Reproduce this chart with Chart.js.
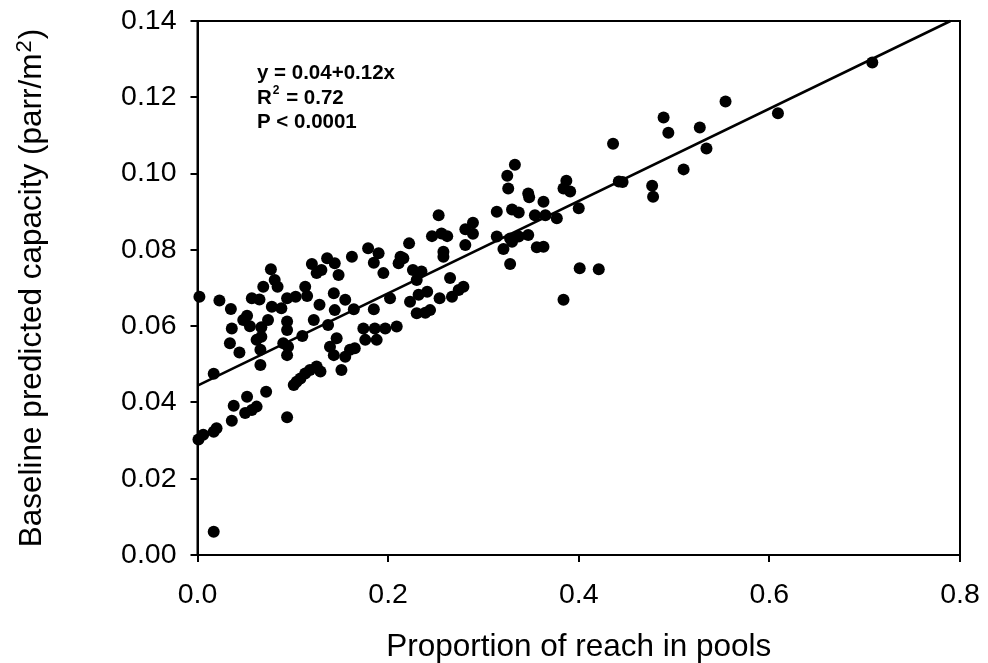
<!DOCTYPE html>
<html>
<head>
<meta charset="utf-8">
<script src="https://cdn.jsdelivr.net/npm/chart.js@4.4.1/dist/chart.umd.min.js"></script>
<style>
  html, body { margin: 0; padding: 0; background: #fff; }
  #wrap { width: 988px; height: 663px; }
</style>
</head>
<body>
<div id="wrap"><canvas id="chartPools" width="988" height="663"></canvas></div>
<script>
// proportion of reach in pools (x) and baseline predicted capacity (y), one entry per reach
const poolX = [
  0.002, 0.023, 0.035, 0.036, 0.034, 0.044, 0.017, 0.048, 0.052, 0.055,
  0.057, 0.065, 0.077, 0.069, 0.081, 0.084, 0.078, 0.088, 0.074, 0.067,
  0.062, 0.067, 0.066, 0.066, 0.094, 0.094, 0.094, 0.090, 0.095, 0.094,
  0.072, 0.052, 0.038, 0.050, 0.057, 0.062, 0.036, 0.094, 0.020, 0.017,
  0.006, 0.001, 0.017, 0.103, 0.113, 0.115, 0.120, 0.125, 0.130, 0.136,
  0.144, 0.148, 0.162, 0.179, 0.190, 0.185, 0.195, 0.128, 0.143, 0.144,
  0.155, 0.164, 0.122, 0.137, 0.110, 0.185, 0.174, 0.186, 0.197, 0.176,
  0.188, 0.146, 0.139, 0.143, 0.155, 0.160, 0.165, 0.151, 0.101, 0.104,
  0.108, 0.113, 0.118, 0.125, 0.129, 0.253, 0.314, 0.289, 0.281, 0.289,
  0.246, 0.256, 0.262, 0.314, 0.222, 0.213, 0.216, 0.211, 0.258, 0.258,
  0.281, 0.226, 0.235, 0.230, 0.265, 0.279, 0.274, 0.241, 0.232, 0.223,
  0.254, 0.267, 0.230, 0.239, 0.244, 0.202, 0.333, 0.325, 0.326, 0.330,
  0.337, 0.347, 0.348, 0.363, 0.354, 0.365, 0.377, 0.387, 0.384, 0.391,
  0.400, 0.442, 0.446, 0.328, 0.337, 0.347, 0.321, 0.330, 0.356, 0.363,
  0.328, 0.401, 0.421, 0.384, 0.436, 0.477, 0.478, 0.489, 0.494, 0.510,
  0.527, 0.534, 0.554, 0.609, 0.708, 0.209
];
const capacity = [
  0.0677, 0.0667, 0.0645, 0.0594, 0.0555, 0.0531, 0.0475, 0.0616, 0.0627, 0.0600,
  0.0673, 0.0670, 0.0749, 0.0703, 0.0721, 0.0703, 0.0651, 0.0647, 0.0616, 0.0597,
  0.0564, 0.0572, 0.0538, 0.0498, 0.0673, 0.0612, 0.0590, 0.0555, 0.0546, 0.0524,
  0.0428, 0.0415, 0.0391, 0.0372, 0.0380, 0.0389, 0.0352, 0.0361, 0.0332, 0.0323,
  0.0315, 0.0303, 0.0061, 0.0677, 0.0703, 0.0679, 0.0763, 0.0739, 0.0747, 0.0778,
  0.0765, 0.0734, 0.0782, 0.0804, 0.0791, 0.0766, 0.0739, 0.0656, 0.0686, 0.0642,
  0.0669, 0.0644, 0.0616, 0.0603, 0.0574, 0.0644, 0.0594, 0.0594, 0.0594, 0.0564,
  0.0564, 0.0568, 0.0546, 0.0524, 0.0520, 0.0538, 0.0542, 0.0485, 0.0446, 0.0454,
  0.0463, 0.0476, 0.0485, 0.0494, 0.0481, 0.0891, 0.0900, 0.0871, 0.0854, 0.0842,
  0.0836, 0.0843, 0.0836, 0.0835, 0.0817, 0.0782, 0.0778, 0.0765, 0.0795, 0.0782,
  0.0813, 0.0747, 0.0743, 0.0721, 0.0726, 0.0703, 0.0695, 0.0690, 0.0682, 0.0664,
  0.0673, 0.0677, 0.0634, 0.0635, 0.0642, 0.0673, 0.1023, 0.0994, 0.0961, 0.0906,
  0.0898, 0.0948, 0.0938, 0.0926, 0.0891, 0.0891, 0.0883, 0.0981, 0.0961, 0.0953,
  0.0909, 0.0979, 0.0978, 0.0830, 0.0835, 0.0839, 0.0802, 0.0821, 0.0807, 0.0808,
  0.0763, 0.0752, 0.0749, 0.0669, 0.1078, 0.0968, 0.0939, 0.1147, 0.1107, 0.1011,
  0.1121, 0.1066, 0.1189, 0.1158, 0.1291, 0.0599
];

// regression line end points (clipped at the top of the plot)
const fitX = [0, 0.79];
const fitY = [0.0444, 0.14];

const xTicks = [0, 0.2, 0.4, 0.6, 0.8];
const yTicks = [0, 0.02, 0.04, 0.06, 0.08, 0.10, 0.12, 0.14];

const statsLines = ["y = 0.04+0.12x", "R2 = 0.72", "P < 0.0001"];
// y title is split so the "2" of m2 can be raised
const yTitleParts = ["Baseline predicted capacity (parr/m", "2", ")"];

const FONT = "'Liberation Sans', Arial, sans-serif";

/* ============================================================
 * plugins: box round the plot, y title, regression text
 * ============================================================ */

const framePlugin = {
  id: "frame",
  afterDraw(chart) {
    const { ctx, chartArea: a } = chart;
    ctx.save();
    ctx.strokeStyle = "#000";
    ctx.lineWidth = 2;
    ctx.strokeRect(a.left, a.top, a.right - a.left, a.bottom - a.top);
    ctx.restore();
  },
};

const yTitlePlugin = {
  id: "yTitle",
  afterDraw(chart) {
    const { ctx, chartArea: a } = chart;
    const big = "31.5px " + FONT;
    const small = "22px " + FONT;
    ctx.save();
    ctx.fillStyle = "#000";
    ctx.textBaseline = "alphabetic";
    ctx.textAlign = "left";

    ctx.font = big;
    const w0 = ctx.measureText(yTitleParts[0]).width;
    const w2 = ctx.measureText(yTitleParts[2]).width;
    ctx.font = small;
    const w1 = ctx.measureText(yTitleParts[1]).width;
    const total = w0 + w1 + w2 + 2;

    ctx.translate(41, (a.top + a.bottom) / 2);
    ctx.rotate(-Math.PI / 2);
    let x = -total / 2;
    ctx.font = big;
    ctx.fillText(yTitleParts[0], x, 0);
    x += w0 + 1;
    ctx.font = small;
    ctx.fillText(yTitleParts[1], x, -10);
    x += w1 + 1;
    ctx.font = big;
    ctx.fillText(yTitleParts[2], x, 0);
    ctx.restore();
  },
};

const statsPlugin = {
  id: "stats",
  afterDraw(chart) {
    const { ctx } = chart;
    const x0 = 257;
    const rows = [73, 98, 122];
    ctx.save();
    ctx.fillStyle = "#000";
    ctx.textBaseline = "middle";
    ctx.font = "bold 20.5px " + FONT;

    ctx.fillText(statsLines[0], x0, rows[0]);

    // R² with a raised 2
    ctx.fillText("R", x0, rows[1]);
    const rw = ctx.measureText("R").width;
    ctx.font = "bold 12px " + FONT;
    ctx.fillText("2", x0 + rw + 1, rows[1] - 7);
    const sw = ctx.measureText("2").width;
    ctx.font = "bold 20.5px " + FONT;
    ctx.fillText(statsLines[1].slice(2), x0 + rw + sw + 2, rows[1]);

    ctx.fillText(statsLines[2], x0, rows[2]);
    ctx.restore();
  },
};

const points = poolX.map((x, i) => ({ x, y: capacity[i] }));
const fitLine = fitX.map((x, i) => ({ x, y: fitY[i] }));

new Chart(document.getElementById("chartPools").getContext("2d"), {
  type: "scatter",
  data: {
    datasets: [
      {
        data: points,
        pointRadius: 6,
        pointHoverRadius: 6,
        pointBackgroundColor: "#000",
        pointBorderWidth: 0,
        clip: false,
      },
      {
        type: "line",
        data: fitLine,
        borderColor: "#000",
        borderWidth: 2.5,
        pointRadius: 0,
        fill: false,
        clip: false,
      },
    ],
  },
  options: {
    responsive: false,
    animation: false,
    events: [],
    layout: { padding: { left: 0, right: 28, top: 21, bottom: 0 } },
    plugins: { legend: { display: false }, tooltip: { enabled: false } },
    scales: {
      x: {
        type: "linear",
        min: 0,
        max: 0.8,
        afterFit: (s) => {
          s.height = 108;
          s.paddingLeft = 0;
          s.paddingRight = 0;
        },
        afterBuildTicks: (s) => { s.ticks = xTicks.map((v) => ({ value: v })); },
        grid: { drawOnChartArea: false, drawTicks: true, tickLength: 7, color: "#000", lineWidth: 2 },
        border: { color: "#000", width: 2 },
        ticks: {
          color: "#000",
          padding: 16,
          font: { family: FONT, size: 28.5 },
          callback: (v) => Number(v).toFixed(1),
        },
        title: {
          display: true,
          text: "Proportion of reach in pools",
          color: "#000",
          font: { family: FONT, size: 31.5 },
          padding: { top: 0, bottom: -3 },
        },
      },
      y: {
        type: "linear",
        min: 0,
        max: 0.14,
        afterFit: (s) => {
          s.width = 197.5;
          s.paddingTop = 0;
          s.paddingBottom = 0;
        },
        afterBuildTicks: (s) => { s.ticks = yTicks.map((v) => ({ value: v })); },
        grid: { drawOnChartArea: false, drawTicks: true, tickLength: 7, color: "#000", lineWidth: 2 },
        border: { color: "#000", width: 2 },
        ticks: {
          color: "#000",
          padding: 14,
          font: { family: FONT, size: 28.5 },
          callback: (v) => Number(v).toFixed(2),
        },
        title: { display: false },
      },
    },
  },
  plugins: [framePlugin, yTitlePlugin, statsPlugin],
});
</script>
</body>
</html>
